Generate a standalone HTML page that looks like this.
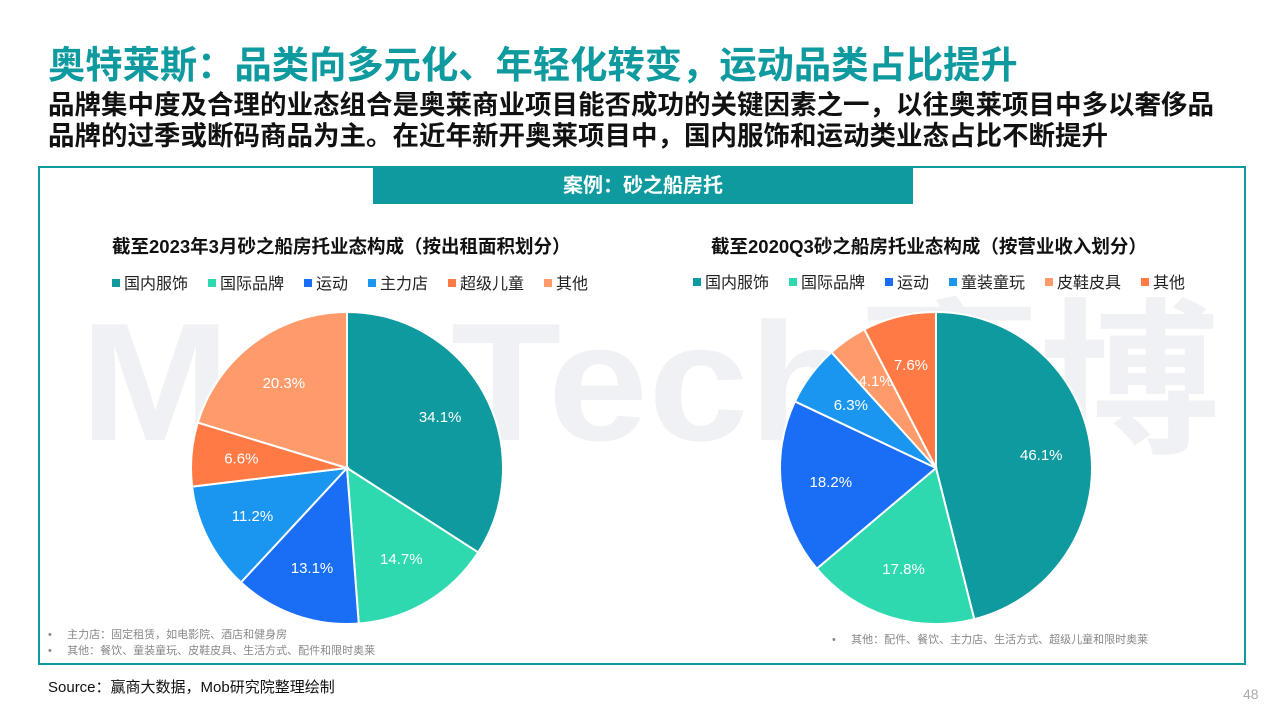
<!DOCTYPE html>
<html><head><meta charset="utf-8">
<style>
body{margin:0;width:1280px;height:720px;background:#fff;position:relative;overflow:hidden;font-family:"Liberation Sans","Noto Sans CJK SC",sans-serif;}
.abs{position:absolute;}
#title{left:48px;top:35px;font-size:37.3px;font-weight:bold;color:#0E9A9E;white-space:nowrap;}
#sub{left:48px;top:90px;font-size:26.5px;font-weight:bold;color:#111;line-height:31px;white-space:nowrap;}
#frame{left:38px;top:166px;width:1204px;height:495px;border:2px solid #0E9A9E;}
#banner{left:373px;top:168px;width:540px;height:36px;background:#0E9A9E;color:#fff;font-size:20px;font-weight:bold;text-align:center;line-height:36px;}
.ct{font-size:18.5px;font-weight:bold;color:#111;white-space:nowrap;}
.note{font-size:11px;color:#888;white-space:nowrap;line-height:16px;}
#src{left:48px;top:676px;font-size:15px;color:#111;}
#pg{left:1243px;top:686px;font-size:14px;color:#aaa;}
</style></head><body>
<div class="abs" id="title">奥特莱斯：品类向多元化、年轻化转变，运动品类占比提升</div>
<div class="abs" id="sub">品牌集中度及合理的业态组合是奥莱商业项目能否成功的关键因素之一，以往奥莱项目中多以奢侈品<br>品牌的过季或断码商品为主。在近年新开奥莱项目中，国内服饰和运动类业态占比不断提升</div>
<div class="abs" id="frame"></div>
<svg class="abs" style="left:0;top:0" width="1280" height="720">
<text x="80" y="440" font-size="168" font-weight="bold" fill="#f0f1f4" font-family="Liberation Sans,Noto Sans CJK SC,sans-serif" textLength="1140" lengthAdjust="spacingAndGlyphs">MobTech袤博</text>
</svg>
<div class="abs" id="banner">案例：砂之船房托</div>
<div class="abs ct" style="left:112px;top:233px">截至2023年3月砂之船房托业态构成（按出租面积划分）</div>
<div class="abs ct" style="left:711px;top:233px">截至2020Q3砂之船房托业态构成（按营业收入划分）</div>
<svg class="abs" id="charts" style="left:0;top:0" width="1280" height="720"></svg>
<div class="abs note" style="left:48px;top:627px">•&nbsp;&nbsp;&nbsp;&nbsp;&nbsp;主力店：固定租赁，如电影院、酒店和健身房<br>•&nbsp;&nbsp;&nbsp;&nbsp;&nbsp;其他：餐饮、童装童玩、皮鞋皮具、生活方式、配件和限时奥莱</div>
<div class="abs note" style="left:832px;top:632px">•&nbsp;&nbsp;&nbsp;&nbsp;&nbsp;其他：配件、餐饮、主力店、生活方式、超级儿童和限时奥莱</div>
<div class="abs" id="src">Source：赢商大数据，Mob研究院整理绘制</div>
<div class="abs" id="pg">48</div>
<script>
const leftCats=["国内服饰","国际品牌","运动","主力店","超级儿童","其他"];
const leftVals=[34.1,14.7,13.1,11.2,6.6,20.3];
const rightCats=["国内服饰","国际品牌","运动","童装童玩","皮鞋皮具","其他"];
const rightVals=[46.1,17.8,18.2,6.3,4.1,7.6];
const leftColors=["#0E9A9E","#2ED9B0","#1A6EF5","#1A96F0","#FF7A45","#FF9B6A"];
const rightColors=["#0E9A9E","#2ED9B0","#1A6EF5","#1A96F0","#FF9B6A","#FF7A45"];
const NS="http://www.w3.org/2000/svg";
const svg=document.getElementById('charts');
function el(t,a){const e=document.createElementNS(NS,t);for(const k in a)e.setAttribute(k,a[k]);svg.appendChild(e);return e;}
function pie(cx,cy,r,cats,vals,cols,legX,legY,name){
  const tot=vals.reduce((a,b)=>a+b,0);let a0=0;
  vals.forEach((v,i)=>{
    const a1=a0+v/tot*2*Math.PI;
    const p=a=>[cx+r*Math.sin(a),cy-r*Math.cos(a)];
    const [x0,y0]=p(a0),[x1,y1]=p(a1);
    const s=el('path',{d:`M${cx},${cy}L${x0},${y0}A${r},${r} 0 ${a1-a0>Math.PI?1:0} 1 ${x1},${y1}Z`,fill:cols[i],stroke:'#fff','stroke-width':2});
    
    
    const m=(a0+a1)/2,lr=r*0.68;
    const t=el('text',{x:cx+lr*Math.sin(m),y:cy-lr*Math.cos(m)+5,fill:'#fff','font-size':15,'text-anchor':'middle','font-family':'Liberation Sans,sans-serif'});
    t.textContent=v.toFixed(1)+'%';
    
    
    a0=a1;
  });
  let x=legX;
  cats.forEach((c,i)=>{
    const r2=el('rect',{x:x,y:legY-8,width:8,height:8,fill:cols[i]});
    
    
    const t=el('text',{x:x+12,y:legY+2,'font-size':16,fill:'#222','font-family':'Liberation Sans,Noto Sans CJK SC,sans-serif'});
    t.textContent=c;
    
    
    x+=12+c.length*16+20;
  });
}
pie(347,468,156,leftCats,leftVals,leftColors,112,287,'left-pie');
pie(936,468,156,rightCats,rightVals,rightColors,693,286,'right-pie');
</script>
</body></html>
